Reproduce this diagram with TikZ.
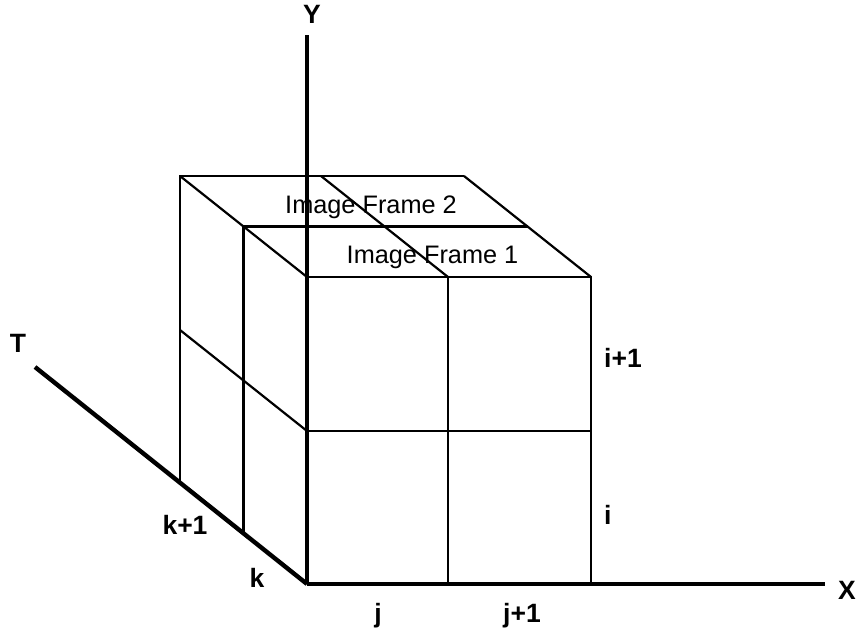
\documentclass[tikz,border=0pt]{standalone}
\usepackage{fontspec}
\setmainfont{Liberation Sans}
\begin{document}
\begin{tikzpicture}[x=1pt,y=-1pt,
  axis/.style={line width=4.4pt},
  edge/.style={line width=2.2pt},
  lbl/.style={font=\fontsize{26.5}{30}\selectfont\bfseries, inner sep=0pt},
  frm/.style={font=\fontsize{25.3}{28}\selectfont, inner sep=0pt}]
\useasboundingbox (0,0) rectangle (859,634);
% axis points
\coordinate (O) at (307,584);
\coordinate (Xe) at (825,584);
\coordinate (Ye) at (307,35);
\coordinate (Te) at (35,367);
% front frame
\coordinate (FTL) at (307,277);
\coordinate (FTM) at (448,277);
\coordinate (FTR) at (591,277);
\coordinate (FML) at (307,431);
\coordinate (FMR) at (591,431);
\coordinate (FBM) at (448,584);
\coordinate (FBR) at (591,584);
% middle frame
\coordinate (MTL) at (243.5,226.5);
\coordinate (MTR) at (527.5,226.5);
\coordinate (MBL) at (243.5,533.5);
% back frame
\coordinate (BTL) at (180,176);
\coordinate (BTM) at (321,176);
\coordinate (BTR) at (464,176);
\coordinate (BML) at (180,330);
\coordinate (BBL) at (180,483);
% cube lines
\draw[edge] (FTL) -- (FTR) -- (FBR);
\draw[edge] (FTM) -- (FBM);
\draw[edge] (FML) -- (FMR);
\draw[edge] (MBL) -- (MTL) -- (MTR);
\draw[edge] (BBL) -- (BTL) -- (BTR);
\draw[edge] (BTL) -- (FTL);
\draw[edge] (BTM) -- (FTM);
\draw[edge] (BTR) -- (FTR);
\draw[edge] (BML) -- (FML);
% axes
\draw[axis] (O) -- (Xe);
\draw[axis] (O) -- (Ye);
\draw[axis] (O) -- (Te);
% labels
\node[lbl] (ly) at (312,14) {Y};
\node[lbl] (lx) at (847,590) {X};
\node[lbl] (lt) at (18,343) {T};
\node[lbl] (lk1) at (185,525) {k+1};
\node[lbl] (lk) at (257,578) {k};
\node[lbl] (lj) at (378,616) {j};
\node[lbl] (lj1) at (522,616) {j+1};
\node[lbl,anchor=west] (li) at (604,515) {i};
\node[lbl,anchor=west] (li1) at (604,358) {i+1};
\node[frm] (f2) at (371,207) {Image Frame 2};
\node[frm] (f1) at (432.5,257) {Image Frame 1};
\end{tikzpicture}
\end{document}
